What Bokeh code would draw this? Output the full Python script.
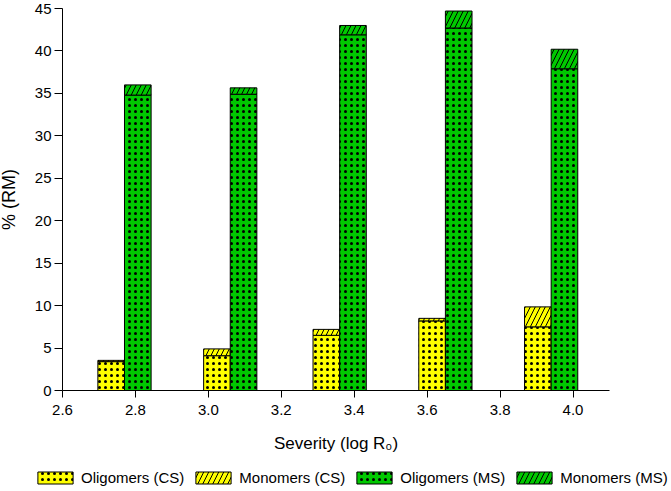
from bokeh.plotting import figure
from bokeh.models import (Range1d, FixedTicker, NumeralTickFormatter, Legend,
                          LegendItem, ColumnDataSource)
from bokeh.embed import file_html
from bokeh.resources import INLINE

# ---- data ----
severity = [2.77, 3.06, 3.36, 3.65, 3.94]
oligomers_cs = [3.4, 4.1, 6.5, 8.2, 7.5]
monomers_cs = [0.15, 0.8, 0.7, 0.3, 2.35]
oligomers_ms = [34.8, 34.9, 41.9, 42.7, 37.9]
monomers_ms = [1.2, 0.75, 1.1, 2.0, 2.3]
x_ticks = [2.6, 2.8, 3.0, 3.2, 3.4, 3.6, 3.8, 4.0]
y_ticks = [0, 5, 10, 15, 20, 25, 30, 35, 40, 45]
x_lo, x_hi = 2.6, 4.1
y_lo, y_hi = 0, 45

bar_w = 0.073
yellow = "#FFFF00"
green = "#00C800"
FONT = "Liberation Sans"

W, H = 671, 491
# pixel placement of the axes inside the (full-size) frame
px_left, px_right = 62, 609     # x_lo, x_hi
py_top, py_zero = 8, 390        # y_hi, y_lo (from top)
sx = (px_right - px_left) / (x_hi - x_lo)
sy = (py_zero - py_top) / (y_hi - y_lo)
xr = Range1d(x_lo - px_left / sx, x_hi + (W - px_right) / sx)
yr = Range1d(y_lo - (H - py_zero) / sy, y_hi + py_top / sy)

x_cs = [s - bar_w / 2 for s in severity]
x_ms = [s + bar_w / 2 for s in severity]
src = ColumnDataSource(dict(
    x_cs=x_cs, x_ms=x_ms,
    ocs=oligomers_cs,
    mcs_top=[a + b for a, b in zip(oligomers_cs, monomers_cs)],
    oms=oligomers_ms,
    mms_top=[a + b for a, b in zip(oligomers_ms, monomers_ms)],
))

p = figure(width=W, height=H, output_backend="svg", toolbar_location=None,
           x_range=xr, y_range=yr,
           min_border_left=0, min_border_right=0, min_border_top=0,
           min_border_bottom=0)
p.outline_line_color = None
p.xgrid.visible = False
p.ygrid.visible = False
p.background_fill_color = "white"
p.border_fill_color = "white"

dot = dict(hatch_pattern="dot", hatch_scale=6, hatch_weight=0.8, hatch_color="black")
diag = dict(hatch_pattern="right_diagonal_line", hatch_scale=10, hatch_weight=1, hatch_color="black")

r1 = p.vbar(x="x_cs", width=bar_w, bottom=0, top="ocs", source=src,
            fill_color=yellow, line_color="black", line_width=1, **dot)
r2 = p.vbar(x="x_cs", width=bar_w, bottom="ocs", top="mcs_top", source=src,
            fill_color=yellow, line_color="black", line_width=1, **diag)
r3 = p.vbar(x="x_ms", width=bar_w, bottom=0, top="oms", source=src,
            fill_color=green, line_color="black", line_width=1, **dot)
r4 = p.vbar(x="x_ms", width=bar_w, bottom="oms", top="mms_top", source=src,
            fill_color=green, line_color="black", line_width=1, **diag)

xa = p.xaxis[0]
xa.ticker = FixedTicker(ticks=x_ticks)
xa.formatter = NumeralTickFormatter(format="0.0")
xa.axis_label = "Severity (log R\u2080)"
xa.fixed_location = y_lo
xa.bounds = (x_lo, x_hi)
ya = p.yaxis[0]
ya.ticker = FixedTicker(ticks=y_ticks)
ya.axis_label = "% (RM)"
ya.fixed_location = x_lo
ya.bounds = (y_lo, y_hi)

for ax in (xa, ya):
    ax.axis_line_color = "black"
    ax.major_tick_line_color = "black"
    ax.minor_tick_line_color = None
    ax.major_tick_in = 0
    ax.major_label_text_font = FONT
    ax.major_label_text_font_size = "15px"
    ax.major_label_text_color = "black"
    ax.axis_label_text_font = FONT
    ax.axis_label_text_font_style = "normal"
    ax.axis_label_text_color = "black"
xa.major_tick_out = 7
ya.major_tick_out = 8
xa.major_label_standoff = 7
ya.major_label_standoff = 3
xa.axis_label_text_font_size = "17px"
ya.axis_label_text_font_size = "18px"
xa.axis_label_standoff = 16
ya.axis_label_standoff = 13

legend = Legend(items=[
    LegendItem(label="Oligomers (CS)", renderers=[r1]),
    LegendItem(label="Monomers (CS)", renderers=[r2]),
    LegendItem(label="Oligomers (MS)", renderers=[r3]),
    LegendItem(label="Monomers (MS)", renderers=[r4]),
], orientation="horizontal", location=(33, 5))
legend.border_line_color = None
legend.background_fill_alpha = 0
legend.padding = 0
legend.margin = 0
legend.spacing = 7
legend.label_standoff = 4
legend.glyph_width = 44
legend.glyph_height = 15
legend.label_text_font = FONT
legend.label_text_font_size = "15px"
legend.label_text_color = "black"
p.add_layout(legend, "center")

open("out.html", "w").write(file_html(p, INLINE))
